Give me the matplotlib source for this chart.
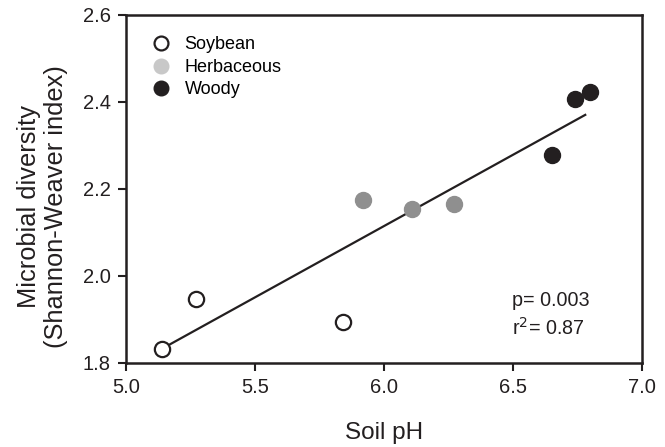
import numpy as np
import matplotlib
matplotlib.use("Agg")
import matplotlib.pyplot as plt
from matplotlib.lines import Line2D

plt.rcParams['font.family'] = ['Liberation Sans', 'DejaVu Sans']

# datos
soy_ph = [5.14, 5.27, 5.84]
soy_div = [1.832, 1.946, 1.895]
herb_ph = [5.92, 6.11, 6.27]
herb_div = [2.175, 2.155, 2.165]
woody_ph = [6.65, 6.74, 6.80]
woody_div = [2.277, 2.407, 2.423]

x_ticks = [5.0, 5.5, 6.0, 6.5, 7.0]
y_ticks = [1.8, 2.0, 2.2, 2.4, 2.6]

fig = plt.figure(figsize=(6.65, 4.47), dpi=100)
ax = fig.add_axes([0.1895, 0.188, 0.7759, 0.7785])

negro = '#231f20'
gris = '#8f8f8f'
gris_leyenda = '#c8c8c8'

# regresion lineal sobre todos los puntos
x_all = np.array(soy_ph + herb_ph + woody_ph)
y_all = np.array(soy_div + herb_div + woody_div)
m, b = np.polyfit(x_all, y_all, 1)
xl = np.array([x_all.min(), 6.78])
ax.plot(xl, m * xl + b, color=negro, lw=1.6, zorder=2)

ax.plot(soy_ph, soy_div, 'o', ms=11, mfc='white', mec=negro, mew=1.6, ls='none', zorder=3)
ax.plot(herb_ph, herb_div, 'o', ms=11.5, mfc=gris, mec=gris, ls='none', zorder=3)
ax.plot(woody_ph, woody_div, 'o', ms=11.5, mfc=negro, mec=negro, ls='none', zorder=3)

ax.set_xlim(5.0, 7.0)
ax.set_ylim(1.8, 2.6)
ax.set_xticks(x_ticks)
ax.set_yticks(y_ticks)
ax.set_xticklabels(['%.1f' % v for v in x_ticks])
ax.set_yticklabels(['%.1f' % v for v in y_ticks])
ax.tick_params(direction='out', length=6, width=1.5, labelsize=14.5, colors=negro,
               top=False, right=False, pad=5)
for s in ax.spines.values():
    s.set_linewidth(1.8)
    s.set_color(negro)

ax.set_xlabel('Soil pH', fontsize=17.5, labelpad=18, color=negro)
ax.set_ylabel('Microbial diversity\n(Shannon-Weaver index)', fontsize=18.3,
              color=negro, linespacing=1.15)
ax.yaxis.set_label_coords(-0.112, 0.45)

handles = [
    Line2D([], [], marker='o', ls='none', ms=10, mfc='white', mec=negro, mew=1.6),
    Line2D([], [], marker='o', ls='none', ms=10.5, mfc=gris_leyenda, mec=gris_leyenda),
    Line2D([], [], marker='o', ls='none', ms=10.5, mfc=negro, mec=negro),
]
ax.legend(handles, ['Soybean', 'Herbaceous', 'Woody'], loc='upper left',
          bbox_to_anchor=(0.01, 0.985), frameon=False, fontsize=13,
          handletextpad=0.55, labelspacing=0.3, borderaxespad=0.5, handlelength=1.5)

ax.text(0.748, 0.18, 'p= 0.003', transform=ax.transAxes, fontsize=14.2, color=negro, va='center')
ax.text(0.748, 0.10, r'r$^2$= 0.87', transform=ax.transAxes, fontsize=14.2, color=negro, va='center')

fig.savefig('out.png', dpi=100)
